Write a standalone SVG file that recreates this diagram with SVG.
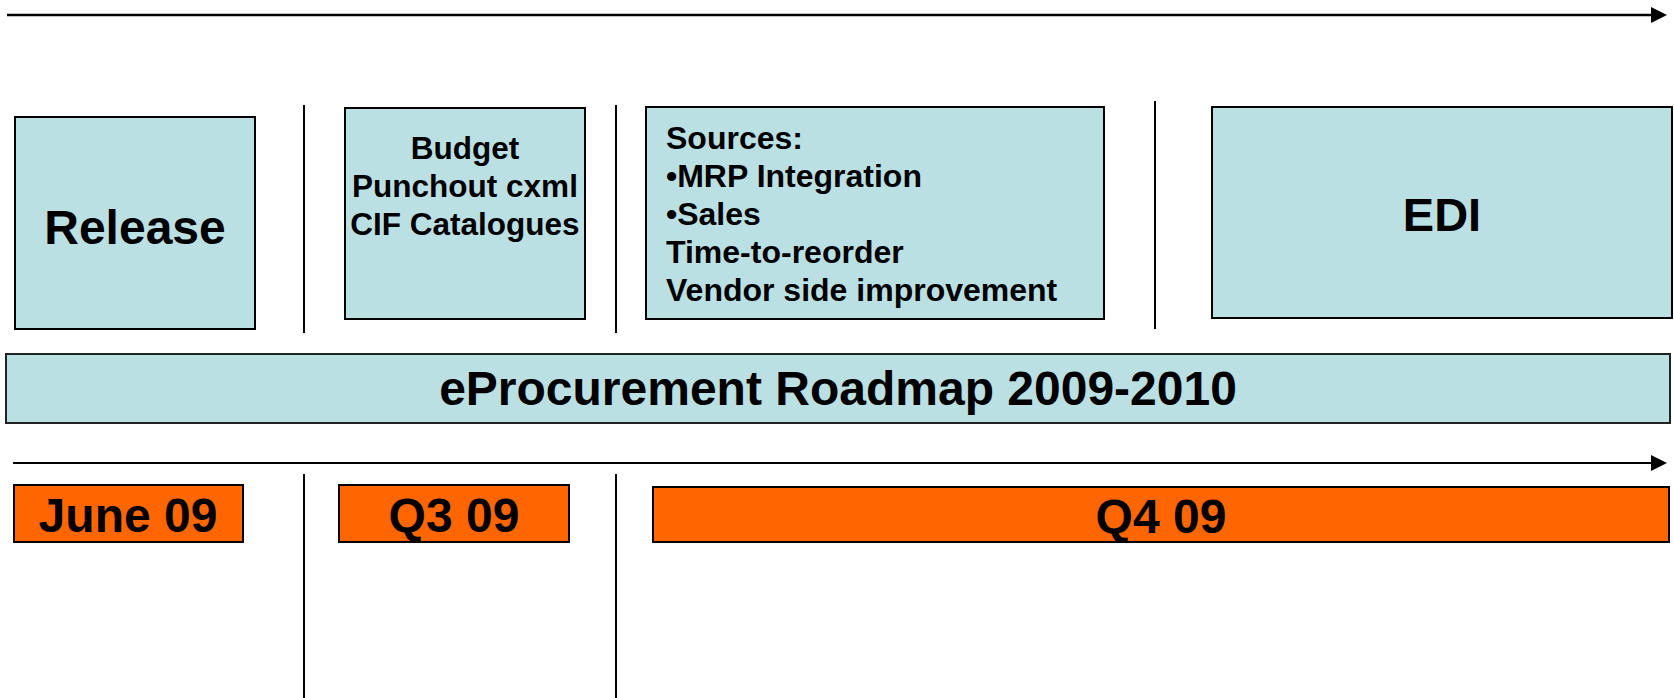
<svg xmlns="http://www.w3.org/2000/svg" width="1674" height="698" viewBox="0 0 1674 698">
<style>
.box{fill:#BBE0E3;stroke:#000;stroke-width:2}
.obox{fill:#FF6600;stroke:#000;stroke-width:2}
.t{font-family:"Liberation Sans",Arial,sans-serif;font-weight:bold;fill:#000}
.sep{stroke:#000;stroke-width:2}
</style>
<defs>
<marker id="ah" markerWidth="16" markerHeight="16" refX="0" refY="8" orient="auto" markerUnits="userSpaceOnUse">
<polygon points="0,0 16,8 0,16" fill="#000"/>
</marker>
</defs>
<g id="connectors">
<line x1="7" y1="15" x2="1651" y2="15" stroke="#000" stroke-width="2.5" marker-end="url(#ah)"/>
<line x1="13" y1="463" x2="1651" y2="463" stroke="#000" stroke-width="2" marker-end="url(#ah)"/>
<line class="sep" x1="304" y1="105" x2="304" y2="333"/>
<line class="sep" x1="616" y1="105" x2="616" y2="333"/>
<line class="sep" x1="1155" y1="101" x2="1155" y2="329"/>
<line class="sep" x1="304" y1="474" x2="304" y2="698"/>
<line class="sep" x1="616" y1="474" x2="616" y2="698"/>
</g>
<g id="release">
<rect class="box" x="15" y="117" width="240" height="212"/>
<text class="t" x="135" y="244" font-size="48" text-anchor="middle">Release</text>
</g>
<g id="budget">
<rect class="box" x="345" y="108" width="240" height="211"/>
<text class="t" font-size="31.5" text-anchor="middle"><tspan x="465" y="159">Budget</tspan><tspan x="465" y="197">Punchout cxml</tspan><tspan x="465" y="235">CIF Catalogues</tspan></text>
</g>
<g id="sources">
<rect class="box" x="646" y="107" width="458" height="212"/>
<text class="t" font-size="32"><tspan x="666" y="149">Sources:</tspan><tspan x="666" y="187">•MRP Integration</tspan><tspan x="666" y="225">•Sales</tspan><tspan x="666" y="263">Time-to-reorder</tspan><tspan x="666" y="301">Vendor side improvement</tspan></text>
</g>
<g id="edi">
<rect class="box" x="1212" y="107" width="460" height="211"/>
<text class="t" x="1442" y="231" font-size="47" text-anchor="middle">EDI</text>
</g>
<g id="title">
<rect class="box" x="6" y="354" width="1664" height="69" style="stroke:#222"/>
<text class="t" x="838" y="405" font-size="48" text-anchor="middle">eProcurement Roadmap 2009-2010</text>
</g>
<g id="june09">
<rect class="obox" x="14" y="485" width="229" height="57"/>
<text class="t" x="128" y="532" font-size="48" text-anchor="middle">June 09</text>
</g>
<g id="q309">
<rect class="obox" x="339" y="485" width="230" height="57"/>
<text class="t" x="454" y="532" font-size="48" text-anchor="middle">Q3 09</text>
</g>
<g id="q409">
<rect class="obox" x="653" y="487" width="1016" height="55"/>
<text class="t" x="1161" y="533" font-size="48" text-anchor="middle">Q4 09</text>
</g>
</svg>
